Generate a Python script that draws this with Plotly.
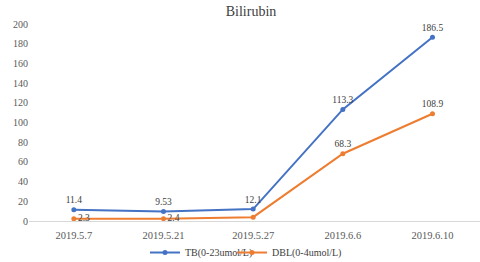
import plotly.graph_objects as go

dates = ["2019.5.7", "2019.5.21", "2019.5.27", "2019.6.6", "2019.6.10"]
tb = [11.4, 9.53, 12.1, 113.3, 186.5]
dbl = [2.3, 2.4, 3.9, 68.3, 108.9]
tb_labels = ["11.4", "9.53", "12.1", "113.3", "186.5"]
dbl_labels = ["2.3", "2.4", "3.9", "68.3", "108.9"]
y_ticks = [0, 20, 40, 60, 80, 100, 120, 140, 160, 180, 200]

font_fam = "Liberation Serif, Times New Roman, serif"

fig = go.Figure()
fig.add_trace(go.Scatter(
    x=dates, y=tb, mode="lines+markers+text", name="TB(0-23umol/L)",
    line=dict(color="#4472C4", width=2), marker=dict(size=5, color="#4472C4"),
    text=tb_labels, textposition="top center",
    textfont=dict(size=9.5, color="#404040", family=font_fam),
    legend="legend",
))
fig.add_trace(go.Scatter(
    x=dates, y=dbl, mode="lines+markers+text", name="DBL(0-4umol/L)",
    line=dict(color="#ED7D31", width=2), marker=dict(size=5, color="#ED7D31"),
    text=dbl_labels,
    textposition=["middle right", "middle right", "bottom right", "top center", "top center"],
    textfont=dict(size=9.5, color="#404040", family=font_fam),
    legend="legend2",
))

leg_common = dict(orientation="h", yanchor="middle", y=-0.16,
                  font=dict(size=10, color="#404040", family=font_fam), itemwidth=30,
                  bgcolor="rgba(0,0,0,0)")

fig.update_layout(
    width=480, height=262,
    margin=dict(l=29, r=0, t=24, b=41, autoexpand=False),
    paper_bgcolor="white", plot_bgcolor="white",
    title=dict(text="Bilirubin", x=0.523, xanchor="center", y=0.977, yanchor="top",
               font=dict(family=font_fam, size=14, color="#404040")),
    font=dict(family=font_fam, size=10, color="#595959"),
    showlegend=True,
    legend=dict(x=(145 - 29) / 451, xanchor="left", **leg_common),
    legend2=dict(x=(232 - 29) / 451, xanchor="left", **leg_common),
    xaxis=dict(type="category", range=[-0.5, 4.53], showgrid=False, showline=False,
               ticks="", tickfont=dict(size=10.5, color="#595959"), automargin=False,
               ticklabelstandoff=6),
    yaxis=dict(range=[0, 200], tickvals=y_ticks, showgrid=False, zeroline=True,
               zerolinecolor="#D9D9D9", zerolinewidth=1, showline=False, ticks="",
               tickfont=dict(size=10, color="#595959"), automargin=False),
)

fig.write_html("out.html", config={"displayModeBar": False},
               post_script="document.body.style.margin='0';")
